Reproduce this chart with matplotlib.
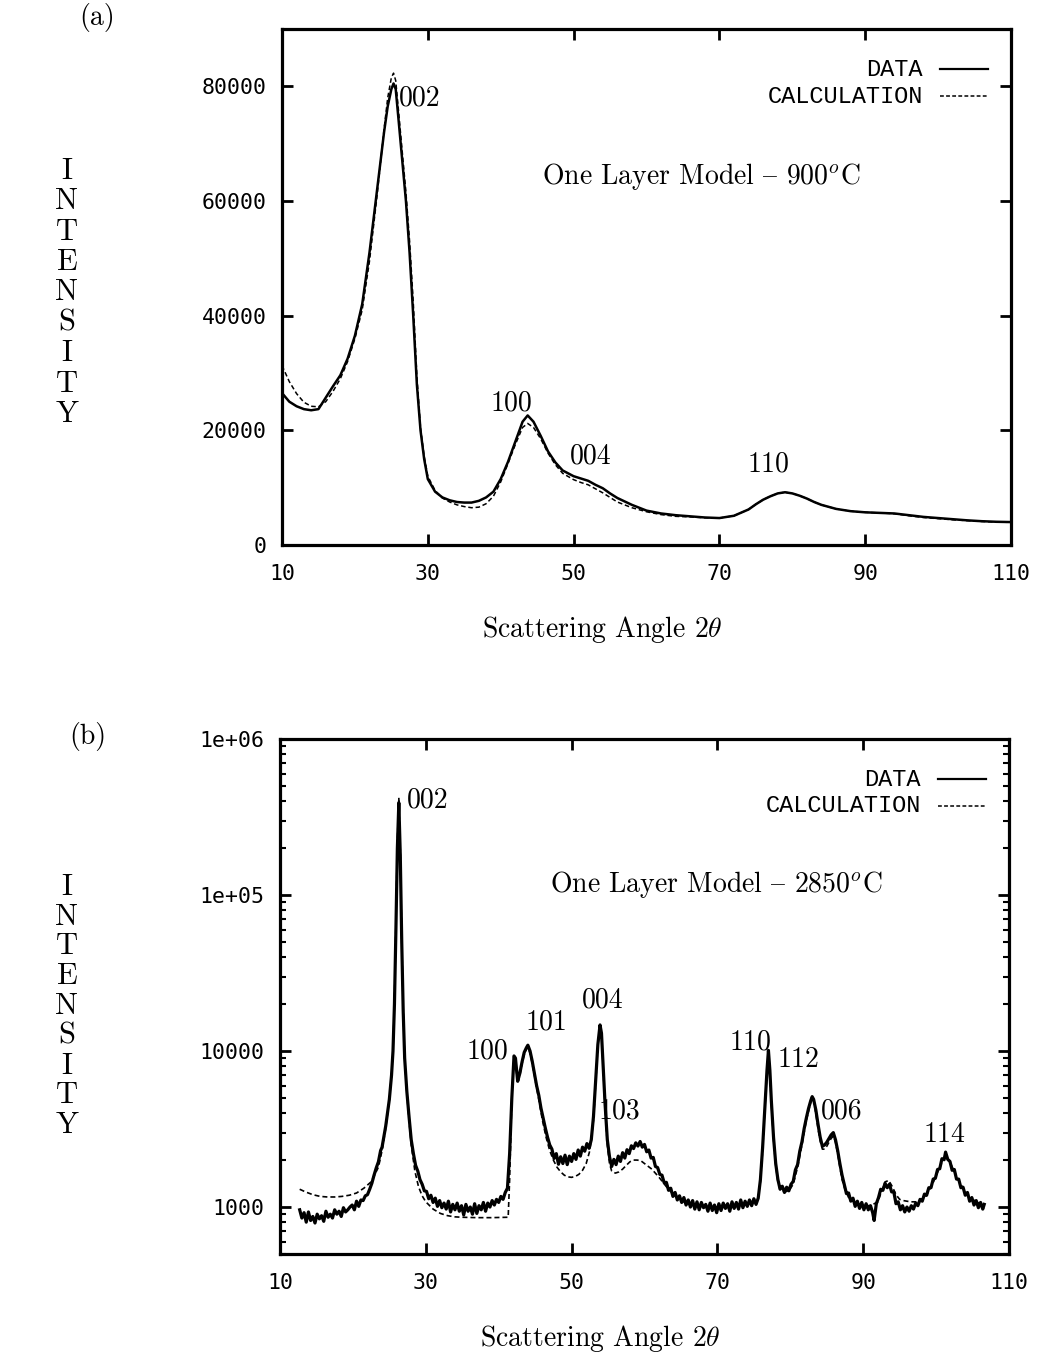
import matplotlib
matplotlib.use("Agg")
import matplotlib.pyplot as plt
from matplotlib.ticker import LogLocator, NullFormatter

plt.rcParams["mathtext.fontset"] = "cm"
plt.rcParams["axes.unicode_minus"] = False

# ---------------- (a) 900 C, linear intensity ----------------
a_angle = [10, 11, 12, 13, 14, 15, 16, 17, 18, 19, 20, 21, 22, 23, 24, 24.5, 25, 25.3, 25.6,
           26, 26.5, 27, 27.5, 28, 28.5, 29, 29.5, 30, 31, 32, 33, 34, 35, 36, 37, 38, 39,
           40, 41, 42, 43, 43.7, 44.5, 45.5, 46.5, 47.5, 48.5, 50, 51, 52, 53, 54, 55, 56,
           57, 58, 60, 62, 64, 66, 68, 70, 72, 74, 75, 76, 77, 78, 79, 80, 81, 82, 83, 84,
           86, 88, 90, 92, 94, 96, 98, 100, 102, 104, 106, 108, 110]
a_data = [26500, 25000, 24200, 23700, 23500, 23700, 25700, 27700, 29600, 32500, 36500, 42000,
          51000, 61500, 72000, 76500, 79500, 80500, 79500, 74000, 67000, 60000, 51000, 40000,
          28000, 20000, 15000, 11500, 9300, 8300, 7800, 7500, 7400, 7400, 7700, 8300, 9300,
          11500, 14500, 18000, 21500, 22600, 21500, 19000, 16300, 14400, 13000, 12000, 11600,
          11200, 10500, 9900, 9000, 8200, 7600, 7000, 6000, 5500, 5200, 5000, 4800, 4700, 5100,
          6200, 7100, 7900, 8500, 9000, 9200, 9000, 8600, 8100, 7500, 7000, 6300, 5900, 5700,
          5600, 5500, 5200, 4900, 4700, 4500, 4300, 4150, 4050, 4000]
a_calc = [31300, 28500, 26400, 24900, 24200, 24100, 25000, 26800, 29000, 32000, 36000, 41000,
          49500, 60500, 72500, 78000, 81500, 82300, 81000, 75500, 68500, 61500, 53000, 42500,
          29500, 20500, 15500, 12000, 9500, 8200, 7500, 7000, 6700, 6500, 6600, 7200, 8500,
          11000, 14200, 17500, 20500, 21200, 20500, 18500, 16000, 14000, 12500, 11400, 10900,
          10500, 9800, 9100, 8300, 7500, 7000, 6500, 5800, 5300, 5000, 4900, 4750, 4700, 5100,
          6200, 7100, 7900, 8500, 9000, 9200, 9000, 8600, 8100, 7500, 7000, 6300, 5900, 5700,
          5600, 5450, 5100, 4800, 4600, 4400, 4250, 4100, 4000, 3950]
a_peaks = ["002", "100", "004", "110"]
a_peak_x = [28.9, 41.5, 52.3, 76.7]
a_peak_y = [77900, 24700, 15500, 14100]

# ---------------- (b) 2850 C, log intensity ----------------
b_angle = [12.7, 13.0, 13.3, 13.6, 13.9, 14.2, 14.5, 14.8, 15.1, 15.4, 15.7, 16.0, 16.3, 16.6,
           16.9, 17.2, 17.5, 17.8, 18.1, 18.4, 18.7, 19.0, 19.3, 19.6, 19.9, 20.2, 20.5, 20.8,
           21.1, 21.4, 21.7, 22.0, 22.3, 22.6, 22.9, 23.2, 23.5, 23.8, 24.0, 24.5, 25.0, 25.3,
           25.5, 25.7, 25.9, 26.1, 26.3, 26.5, 26.7, 26.9, 27.1, 27.4, 27.7, 28.0, 28.3, 28.6,
           28.9, 29.2, 29.5, 29.8, 30.1, 30.4, 30.7, 31.0, 31.3, 31.6, 31.9, 32.2, 32.5, 32.8,
           33.1, 33.4, 33.7, 34.0, 34.3, 34.6, 34.9, 35.2, 35.5, 35.8, 36.1, 36.4, 36.7, 37.0,
           37.3, 37.6, 37.9, 38.2, 38.5, 38.8, 39.1, 39.4, 39.7, 40.0, 40.3, 40.6, 40.9, 41.2,
           41.5, 41.8, 42.1, 42.3, 42.6, 42.9, 43.2, 43.5, 43.8, 44.0, 44.3, 44.6, 44.9, 45.2,
           45.5, 45.8, 46.1, 46.4, 46.7, 47.0, 47.3, 47.6, 47.9, 48.2, 48.5, 48.8, 49.1, 49.4,
           49.7, 50.0, 50.3, 50.6, 50.9, 51.2, 51.5, 51.8, 52.1, 52.4, 52.7, 53.0, 53.3, 53.6,
           53.9, 54.1, 54.3, 54.6, 54.9, 55.2, 55.5, 55.8, 56.1, 56.4, 56.7, 57.0, 57.3, 57.6,
           57.9, 58.2, 58.5, 58.8, 59.1, 59.4, 59.7, 60.0, 60.3, 60.6, 60.9, 61.2, 61.5, 61.8,
           62.1, 62.4, 62.7, 63.0, 63.3, 63.6, 63.9, 64.2, 64.5, 64.8, 65.1, 65.4, 65.7, 66.0,
           66.3, 66.6, 66.9, 67.2, 67.5, 67.8, 68.1, 68.4, 68.7, 69.0, 69.3, 69.6, 69.9, 70.2,
           70.5, 70.8, 71.1, 71.4, 71.7, 72.0, 72.3, 72.6, 72.9, 73.2, 73.5, 73.8, 74.1, 74.4,
           74.7, 75.0, 75.3, 75.6, 75.9, 76.2, 76.5, 76.8, 77.0, 77.2, 77.4, 77.7, 78.0, 78.3,
           78.6, 78.9, 79.2, 79.5, 79.8, 80.1, 80.4, 80.7, 81.0, 81.3, 81.6, 81.9, 82.2, 82.5,
           82.8, 83.0, 83.2, 83.5, 83.8, 84.1, 84.4, 84.7, 85.0, 85.3, 85.6, 85.9, 86.2, 86.5,
           86.8, 87.1, 87.4, 87.7, 88.0, 88.3, 88.6, 88.9, 89.2, 89.5, 89.8, 90.1, 90.4, 90.7,
           91.0, 91.3, 91.5, 91.8, 92.1, 92.4, 92.7, 93.0, 93.3, 93.6, 93.9, 94.2, 94.5, 94.8,
           95.1, 95.4, 95.7, 96.0, 96.3, 96.6, 96.9, 97.2, 97.5, 97.8, 98.1, 98.4, 98.7, 99.0,
           99.3, 99.6, 99.9, 100.2, 100.5, 100.8, 101.1, 101.3, 101.6, 101.9, 102.2, 102.5,
           102.8, 103.1, 103.4, 103.7, 104.0, 104.3, 104.6, 104.9, 105.2, 105.5, 105.8, 106.1,
           106.4, 106.6]
b_data = [960, 850, 920, 800, 930, 820, 870, 790, 900, 840, 880, 810, 940, 860,
          900, 850, 960, 900, 940, 870, 990, 930, 960, 1000, 1030, 960, 1090, 1010,
          1110, 1100, 1180, 1200, 1300, 1420, 1600, 1780, 1950, 2300, 2420, 3300, 4900, 7000,
          10000, 20000, 60000, 200000, 390000, 180000, 50000, 18000, 9000, 5500, 3800, 2700, 2200, 1850,
          1700, 1500, 1400, 1270, 1260, 1130, 1190, 1070, 1140, 1010, 1100, 990, 1060, 970,
          1090, 930, 1040, 960, 1060, 940, 1020, 890, 1040, 940, 1000, 900, 1050, 910,
          1020, 960, 1070, 940, 1060, 1000, 1100, 1030, 1120, 1070, 1170, 1120, 1240, 1320,
          2200, 5000, 9300, 9000, 6400, 7200, 8500, 9800, 10500, 10900, 10000, 8600, 7200, 6000,
          5200, 4300, 3700, 3200, 2800, 2500, 2350, 2050, 2200, 1880, 2100, 1900, 2150, 1870,
          2120, 1960, 2200, 2020, 2320, 2120, 2420, 2280, 2550, 2380, 2700, 3800, 6500, 11000,
          14700, 13000, 8500, 4500, 2700, 2100, 1820, 2020, 1870, 2120, 1960, 2230, 2060, 2330,
          2200, 2470, 2370, 2580, 2460, 2630, 2420, 2520, 2260, 2320, 2060, 2080, 1820, 1790,
          1620, 1600, 1430, 1440, 1280, 1320, 1170, 1240, 1110, 1180, 1070, 1150, 1030, 1110,
          1000, 1100, 970, 1080, 960, 1070, 990, 1040, 940, 1060, 950, 1030, 920, 1050,
          950, 1060, 980, 1050, 940, 1080, 980, 1070, 970, 1110, 990, 1090, 1010, 1110,
          1020, 1130, 1040, 1140, 1500, 2400, 4300, 7500, 10100, 7500, 4800, 2800, 1900, 1500,
          1300, 1360, 1240, 1340, 1270, 1400, 1460, 1730, 1870, 2280, 2620, 3180, 3720, 4280,
          4800, 5100, 4900, 4200, 3400, 2800, 2450, 2500, 2600, 2750, 2900, 3000, 2700, 2300,
          1900, 1600, 1400, 1220, 1230, 1090, 1140, 1010, 1090, 980, 1070, 960, 1050, 960,
          1020, 920, 820, 1050, 1150, 1300, 1280, 1420, 1330, 1400, 1250, 1250, 1050, 1080,
          960, 1020, 930, 1000, 940, 1020, 970, 1060, 1020, 1120, 1090, 1210, 1190, 1330,
          1330, 1510, 1530, 1740, 1760, 2040, 2010, 2250, 2020, 1960, 1720, 1740,
          1510, 1510, 1330, 1340, 1190, 1240, 1090, 1150, 1030, 1100, 990, 1070,
          970, 1040]
b_calc_angle = [12.7, 13.5, 14.5, 15.5, 16.5, 17.5, 18.5, 19.5, 20.5, 21.5, 22.5, 23.5, 24.0,
                24.5, 25.0, 25.3, 25.5, 25.7, 25.9, 26.1, 26.3, 26.5, 26.7, 26.9, 27.1, 27.4,
                27.7, 28.0, 28.5, 29.0, 29.5, 30.0, 31.0, 32.0, 33.0, 34.0, 35.0, 37.0, 39.0,
                41.3, 41.5, 41.8, 42.1, 42.3, 42.6, 42.9, 43.2, 43.5, 43.8, 44.0, 44.3, 44.6,
                44.9, 45.2, 45.5, 46.0, 46.5, 47.0, 47.5, 48.0, 48.5, 49.0, 49.5, 50.0, 50.5,
                51.0, 51.5, 52.0, 52.5, 53.0, 53.3, 53.6, 53.9, 54.1, 54.3, 54.6, 54.9, 55.2,
                55.5, 56.0, 56.5, 57.0, 57.5, 58.0, 58.5, 59.0, 59.5, 60.0, 61.0, 62.0, 63.0,
                64.0, 65.0, 66.0, 68.0, 70.0, 72.0, 74.0, 75.5, 75.9, 76.2, 76.5, 76.8, 77.0,
                77.2, 77.4, 77.7, 78.0, 78.3, 78.6, 79.2, 79.8, 80.4, 81.0, 81.6, 82.2, 82.8,
                83.0, 83.2, 83.5, 83.8, 84.1, 84.4, 84.7, 85.0, 85.3, 85.6, 85.9, 86.2, 86.5,
                86.8, 87.1, 87.5, 88.0, 89.0, 90.0, 91.0, 92.0, 92.5, 93.0, 93.5, 94.0, 94.5,
                95.0, 95.5, 96.5, 97.5, 98.5, 99.5, 100.5, 101.3, 102.0, 103.0, 104.0, 105.0,
                106.0, 106.6]
b_calc = [1300, 1250, 1200, 1170, 1160, 1160, 1170, 1190, 1230, 1320, 1450, 1800, 2300,
          3200, 4900, 7000, 10000, 21000, 65000, 220000, 420000, 190000, 52000, 18500, 9000, 5400,
          3600, 2500, 1700, 1350, 1180, 1080, 970, 910, 880, 865, 860, 855, 855,
          860, 1500, 5000, 9000, 8600, 6200, 7000, 8300, 9500, 10300, 10600, 9700, 8300,
          7000, 5800, 4900, 3600, 2800, 2300, 2000, 1800, 1680, 1600, 1560, 1550, 1570,
          1620, 1720, 1900, 2300, 3600, 6300, 10800, 14500, 12800, 8300, 4300, 2500, 1900,
          1700, 1650, 1680, 1750, 1850, 1950, 2000, 2000, 1980, 1900, 1750, 1550, 1350,
          1200, 1100, 1050, 1010, 1000, 1010, 1040, 1100, 1450, 2300, 4200, 7300, 9800,
          7300, 4600, 2700, 1850, 1450, 1300, 1250, 1270, 1400, 1800, 2500, 3600, 4700,
          5000, 4800, 4000, 3200, 2650, 2350, 2350, 2450, 2600, 2750, 2850, 2600, 2200,
          1800, 1500, 1300, 1150, 1060, 1020, 1020, 1080, 1250, 1450, 1480, 1350, 1200,
          1120, 1100, 1080, 1080, 1150, 1400, 1800, 2150, 1900, 1500, 1250, 1120,
          1050, 1020]
b_peaks = ["002", "100", "101", "004", "103", "110", "112", "006", "114"]
b_peak_x = [30.3, 38.4, 46.6, 54.2, 56.6, 74.5, 81.1, 87.0, 101.2]
b_peak_y = [406000, 9900, 15300, 21200, 4130, 11400, 8770, 4130, 2900]

x_ticks = [10, 30, 50, 70, 90, 110]
a_y_ticks = [0, 20000, 40000, 60000, 80000]
b_y_ticks = [1000, 10000, 100000, 1000000]
b_y_labels = ["1000", "10000", "1e+05", "1e+06"]
ylabel_letters = list("INTENSITY")

CM = ["cmr10", "DejaVu Serif"]
TICKFONT = "DejaVu Sans Mono"
KEYFONT = ["Liberation Mono", "DejaVu Sans Mono"]
# in the cmr10 (TeX OT1) layout the en dash sits at the "{" position
ENDASH = "{"

W, H = 1043, 1359
fig = plt.figure(figsize=(W / 100, H / 100), dpi=100)


def axes_px(left, top, right, bottom):
    return fig.add_axes([left / W, 1 - bottom / H, (right - left) / W, (bottom - top) / H])


def frame(ax):
    for s in ax.spines.values():
        s.set_linewidth(2.3)
    ax.tick_params(which="major", direction="in", length=8, width=2.0,
                   top=True, right=True, pad=11)
    ax.tick_params(axis="x", which="major", pad=14)
    ax.set_xlim(10, 110)
    ax.set_xticks(x_ticks, [str(v) for v in x_ticks], fontfamily=TICKFONT, fontsize=15.5)


def key(ax):
    ax.text(0.879, 0.922, "DATA", transform=ax.transAxes, ha="right", va="center",
            fontfamily=KEYFONT, fontsize=17)
    ax.text(0.879, 0.870, "CALCULATION", transform=ax.transAxes, ha="right", va="center",
            fontfamily=KEYFONT, fontsize=17)
    ax.plot([0.903, 0.968], [0.922, 0.922], transform=ax.transAxes, color="black", lw=1.6)
    ax.plot([0.903, 0.968], [0.870, 0.870], transform=ax.transAxes, color="black", lw=1.1,
            dashes=(2.5, 1.5))


def ylabel(centers):
    for ch, yc in zip(ylabel_letters, centers):
        fig.text(67 / W, 1 - yc / H, ch, ha="center", va="center", fontfamily=CM, fontsize=22)


# panel (a)
ax1 = axes_px(282, 29, 1011, 545)
frame(ax1)
ax1.set_ylim(0, 90000)
ax1.set_yticks(a_y_ticks, [str(v) for v in a_y_ticks], fontfamily=TICKFONT, fontsize=15.5)
ax1.plot(a_angle, a_data, color="black", lw=1.8, solid_joinstyle="round")
ax1.plot(a_angle, a_calc, color="black", lw=1.1, dashes=(3, 1.8))
for lab, px, py in zip(a_peaks, a_peak_x, a_peak_y):
    ax1.text(px, py, lab, ha="center", va="center", fontfamily=CM, fontsize=20)
ax1.text(67.5, 64200, "One Layer Model " + ENDASH + " 900$^o$C", ha="center", va="center",
         fontfamily=CM, fontsize=20)
key(ax1)

# panel (b)
ax2 = axes_px(280, 739, 1009, 1254)
frame(ax2)
ax2.set_yscale("log")
ax2.set_ylim(500, 1.0e6)
ax2.set_yticks(b_y_ticks, b_y_labels, fontfamily=TICKFONT, fontsize=15.5)
ax2.yaxis.set_minor_locator(LogLocator(base=10, subs=range(2, 10)))
ax2.yaxis.set_minor_formatter(NullFormatter())
ax2.tick_params(axis="y", which="minor", direction="in", length=4, width=1.5, right=True)
ax2.plot(b_angle, b_data, color="black", lw=2.3, solid_joinstyle="round")
ax2.plot(b_calc_angle, b_calc, color="black", lw=1.2, dashes=(3, 1.8))
for lab, px, py in zip(b_peaks, b_peak_x, b_peak_y):
    ax2.text(px, py, lab, ha="center", va="center", fontfamily=CM, fontsize=20)
ax2.text(69.9, 116000, "One Layer Model " + ENDASH + " 2850$^o$C", ha="center", va="center",
         fontfamily=CM, fontsize=20)
key(ax2)

# outer labels
fig.text(97 / W, 1 - 18 / H, "(a)", ha="center", va="center", fontfamily=CM, fontsize=20)
fig.text(88 / W, 1 - 737 / H, "(b)", ha="center", va="center", fontfamily=CM, fontsize=20)
ylabel([171 + 30.4 * i for i in range(9)])
ylabel([887 + 29.8 * i for i in range(9)])
fig.text(602 / W, 1 - 630 / H, r"Scattering Angle $2\theta$", ha="center", va="center",
         fontfamily=CM, fontsize=20)
fig.text(600 / W, 1 - 1338 / H, r"Scattering Angle $2\theta$", ha="center", va="center",
         fontfamily=CM, fontsize=20)

fig.savefig("out.png", dpi=100, facecolor="white")
